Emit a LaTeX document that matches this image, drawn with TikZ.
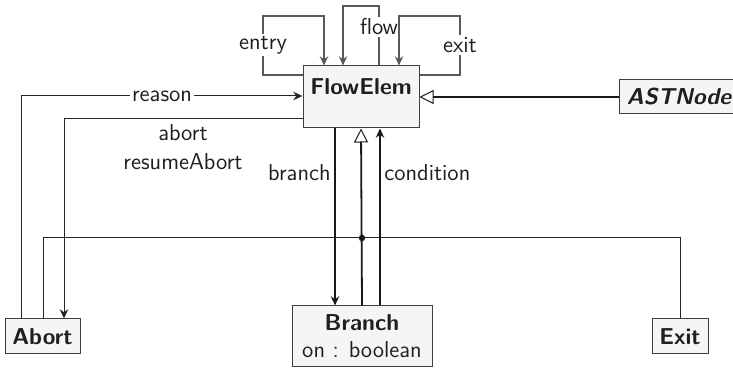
\documentclass[tikz,border=0pt]{standalone}
\usetikzlibrary{arrows.meta,calc}
\begin{document}
\begin{tikzpicture}[x=0.5pt,y=-0.5pt,
  font=\sffamily\fontsize{11.5}{13.5}\selectfont,
  box/.style={draw=black!75, fill=black!4, line width=0.5pt, inner sep=0pt},
  thin/.style={draw=black!85, line width=0.5pt},
  thk/.style={draw=black!90, line width=0.9pt},
  loopl/.style={draw=black!65, line width=0.55pt},
  arr/.style={-{Stealth[length=4.6pt,width=4.2pt]}},
  gen/.style={-{Triangle[open,length=7pt,width=7pt,fill=white,line width=0.5pt]}},
  lbl/.style={fill=white, inner sep=1pt, text=black!88},
  ttl/.style={inner sep=0pt, text=black!88, font=\sffamily\bfseries\fontsize{11.5}{13.5}\selectfont}]
\useasboundingbox (0,0) rectangle (733,368);
% boxes
\node[box, minimum width=58pt, minimum height=31pt] (fe) at (361,97) {};
\node[ttl] (fet) at (361,87) {FlowElem};
\node[box, minimum width=58pt, minimum height=17pt] (ast) at (677,97) {};
\node[ttl, font=\sffamily\bfseries\itshape\fontsize{11.5}{13.5}\selectfont] (astt) at (679,97) {ASTNode};
\node[box, minimum width=37.5pt, minimum height=17.5pt] (ab) at (42.5,336.5) {};
\node[ttl] (abt) at (42.5,336.5) {Abort};
\node[box, minimum width=28pt, minimum height=17.5pt] (ex) at (680,336.5) {};
\node[ttl] (ext) at (680,336.5) {Exit};
\node[box, minimum width=70pt, minimum height=30.5pt] (br) at (362,336.5) {};
\node[ttl] (brt) at (362,323) {Branch};
\node[inner sep=0pt, text=black!88] (bra) at (362,350) {on : boolean};
% self loops
\draw[loopl, arr] (fe.west |- 0,75) -- (263,75) -- (263,16) -- (324,16) -- (324,0 |- fe.north);
\node[lbl] (len) at (263,45) {entry};
\draw[loopl, arr] (379,0 |- fe.north) -- (379,6) -- (343,6) -- (343,0 |- fe.north);
\node[lbl] (lfl) at (379,27) {flow};
\draw[loopl, arr] (fe.east |- 0,75) -- (460,75) -- (460,16) -- (399,16) -- (399,0 |- fe.north);
\node[lbl] (lex) at (460,45) {exit};
% ASTNode generalization
\draw[thk, gen] (ast.west) -- (fe.east);
% reason
\draw[thin, arr] (21,0 |- ab.north) -- (21,96) -- (fe.west |- 0,96);
\node[lbl] (lre) at (162,96) {reason};
% abort
\draw[thin, arr] (fe.west |- 0,119) -- (64,119) -- (64,0 |- ab.north);
\node[inner sep=0pt, text=black!88, align=center] (lab) at (183,147) {abort\\[1pt]resumeAbort};
% bus
\draw[thin] (43,0 |- ab.north) -- (43,238) -- (680,238) -- (ex.north);
\coordinate (dot) at (362,238);
\fill[black!90] (dot) circle (1.6pt);
% branch generalization
\draw[thk, gen] (br.north) -- (fe.south);
% branch
\draw[thk, arr] (335,0 |- fe.south) -- (335,0 |- br.north);
\node[inner sep=0pt, text=black!88, anchor=east] (lbr) at (331,173) {branch};
% condition
\draw[thk, arr] (380,0 |- br.north) -- (380,0 |- fe.south);
\node[inner sep=0pt, text=black!88, anchor=west] (lco) at (384,173) {condition};
\end{tikzpicture}
\end{document}
